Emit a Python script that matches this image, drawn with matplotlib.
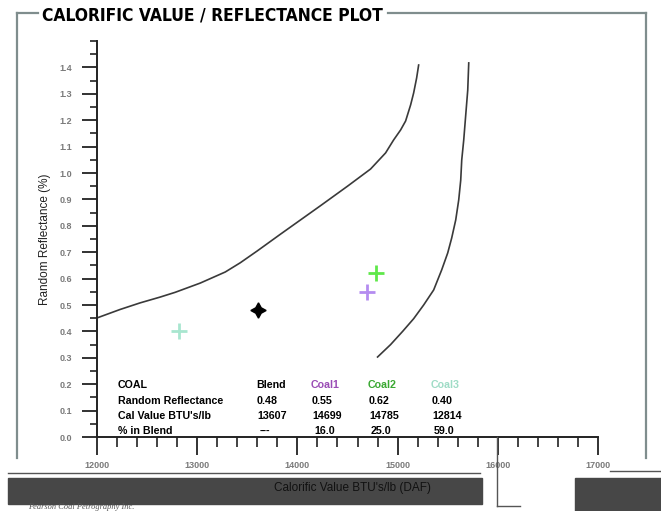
import matplotlib
matplotlib.use("Agg")
import matplotlib.pyplot as plt
from matplotlib.patches import Rectangle
from matplotlib.lines import Line2D
from matplotlib import font_manager as fm
from matplotlib.ticker import MultipleLocator

W, H = 661, 511

# ---------------- data ----------------
coal_names = ["Blend", "Coal1", "Coal2", "Coal3"]
reflectance = [0.48, 0.55, 0.62, 0.40]
cal_value = [13607, 14699, 14785, 12814]
pct_blend = ["---", "16.0", "25.0", "59.0"]
row_labels = ["COAL", "Random Reflectance", "Cal Value BTU's/lb", "% in Blend"]

left_curve_btu = [12000, 12230, 12430, 12630, 12780, 13030, 13280, 13430,
                  13600, 13830, 14030, 14230, 14500, 14730, 14880, 14960,
                  15030, 15080, 15130, 15160, 15190, 15210]
left_curve_ref = [0.451, 0.483, 0.508, 0.530, 0.548, 0.583, 0.625, 0.660,
                  0.705, 0.768, 0.822, 0.876, 0.950, 1.015, 1.076, 1.125,
                  1.163, 1.197, 1.258, 1.303, 1.360, 1.409]
right_curve_btu = [15710, 15700, 15680, 15660, 15640, 15630, 15610, 15580,
                   15540, 15500, 15440, 15360, 15260, 15160, 15050, 14930,
                   14800]
right_curve_ref = [1.417, 1.314, 1.220, 1.125, 1.049, 0.973, 0.898, 0.822,
                   0.754, 0.697, 0.633, 0.557, 0.500, 0.448, 0.400, 0.350,
                   0.303]

x_ticks = [12000, 13000, 14000, 15000, 16000, 17000]
y_ticks = [0.0, 0.1, 0.2, 0.3, 0.4, 0.5, 0.6, 0.7, 0.8, 0.9, 1.0, 1.1, 1.2, 1.3, 1.4]

marker_colors = ["black", "#b48cf0", "#5fe84a", "#a8e6cf"]
text_colors = ["black", "#9a4cb5", "#3aa832", "#9fdcc6"]

# ---------------- fonts ----------------
sans = "Liberation Sans"
title_prop = None
for f in fm.fontManager.ttflist:
    st = str(f.stretch).lower()
    wt = f.weight if isinstance(f.weight, int) else (700 if "bold" in str(f.weight).lower() else 400)
    if ("condensed" in st or "narrow" in f.name.lower()) and wt >= 700 \
            and f.style == "normal" and "extra" not in st and "ultra" not in st:
        if f.name in ("Liberation Sans Narrow", "Noto Sans", "Open Sans",
                      "DejaVu Sans", "Roboto"):
            title_prop = fm.FontProperties(fname=f.fname)
            break
if title_prop is None:
    title_prop = fm.FontProperties(family=sans, weight="bold")

fig = plt.figure(figsize=(W / 100, H / 100), dpi=100)


def fx(x):
    return x / W


def fy(y):
    return 1 - y / H


# frame around the chart
frame_c = "#7f8d8d"
for xs, ys in [([17, 38], [13, 13]), ([388, 646], [13, 13]),
               ([17, 17], [13, 458]), ([646, 646], [13, 458])]:
    fig.add_artist(Line2D([fx(v) for v in xs], [fy(v) for v in ys],
                          color=frame_c, lw=1.6, transform=fig.transFigure))

title = fig.text(fx(42), fy(15), "CALORIFIC VALUE / REFLECTANCE PLOT",
                 fontproperties=title_prop, fontsize=15,
                 ha="left", va="center", color="black")
renderer = fig.canvas.get_renderer()
tw = title.get_window_extent(renderer).width
title.set_fontsize(min(17, 15 * 342 / tw))

# main axes
left, right = 97, 598
bottom, top = 437, 41
ax = fig.add_axes([fx(left), fy(bottom), (right - left) / W, (bottom - top) / H])
ax.set_xlim(12000, 17000)
ax.set_ylim(0, 1.5)
for s in ["top", "right"]:
    ax.spines[s].set_visible(False)
for s in ["left", "bottom"]:
    ax.spines[s].set_color("#222222")
    ax.spines[s].set_linewidth(1.4)

ax.set_yticks(y_ticks)
ax.set_yticklabels([f"{v:.1f}" for v in y_ticks])
ax.yaxis.set_minor_locator(MultipleLocator(0.05))
ax.set_xticks(x_ticks)
ax.set_xticklabels([str(v) for v in x_ticks])
ax.xaxis.set_minor_locator(MultipleLocator(200))
ax.tick_params(axis="y", which="major", length=11, width=1.3, color="#222222",
               labelsize=6.5, labelcolor="#7a7a7a", pad=7)
ax.tick_params(axis="y", which="minor", length=5, width=1.2, color="#222222")
ax.tick_params(axis="x", which="major", length=13, width=1.3, color="#222222",
               labelsize=6.5, labelcolor="#7a7a7a", pad=4)
ax.tick_params(axis="x", which="minor", length=7, width=1.2, color="#222222")
for lab in ax.get_yticklabels() + ax.get_xticklabels():
    lab.set_fontweight("bold")
    lab.set_fontfamily(sans)

ax.set_ylabel("Random Reflectance (%)", fontsize=8.5, fontfamily=sans,
              color="#222222", labelpad=6)

ax.plot(left_curve_btu, left_curve_ref, color="#3a3a3a", lw=1.2)
ax.plot(right_curve_btu, right_curve_ref, color="#3a3a3a", lw=1.2)

# points
ax.plot(cal_value[0], reflectance[0], marker=(4, 1, 0), markersize=11,
        color=marker_colors[0], linestyle="none")
for i in range(1, 4):
    ax.plot(cal_value[i], reflectance[i], marker="+", markersize=12,
            markeredgewidth=2, color=marker_colors[i], linestyle="none")

# data table text
col_x = [256, 311, 368, 431]
row_y = [385, 401, 416, 431]
tfs = 7.7
for r, lab in enumerate(row_labels):
    fig.text(fx(118), fy(row_y[r]), lab, fontsize=tfs, fontweight="bold",
             fontfamily=sans, va="center", ha="left", color="black")
for c in range(4):
    fig.text(fx(col_x[c]), fy(row_y[0]), coal_names[c], fontsize=tfs,
             fontweight="bold", fontfamily=sans, va="center", ha="left",
             color=text_colors[c])
    fig.text(fx(col_x[c] + 1), fy(row_y[1]), f"{reflectance[c]:.2f}", fontsize=tfs,
             fontweight="bold", fontfamily=sans, va="center", ha="left")
    fig.text(fx(col_x[c] + 1), fy(row_y[2]), str(cal_value[c]), fontsize=tfs,
             fontweight="bold", fontfamily=sans, va="center", ha="left")
    fig.text(fx(col_x[c] + (4 if c == 0 else 3)), fy(row_y[3]), pct_blend[c],
             fontsize=tfs, fontweight="bold", fontfamily=sans, va="center",
             ha="left")

# bottom band (as in the reference image)
band_c = "#474747"
fig.add_artist(Rectangle((fx(8), fy(504)), fx(482) - fx(8), fy(478) - fy(504),
                         color=band_c, transform=fig.transFigure, zorder=0))
fig.add_artist(Rectangle((fx(575), fy(511)), fx(661) - fx(575), fy(478) - fy(511),
                         color=band_c, transform=fig.transFigure, zorder=0))
for xs, ys in [([8, 480], [473, 473]), ([497, 497], [437, 506]),
               ([497, 520], [506, 506]), ([610, 661], [471, 471])]:
    fig.add_artist(Line2D([fx(v) for v in xs], [fy(v) for v in ys],
                          color="#555555", lw=1.0, transform=fig.transFigure))

fig.text(fx(352), fy(488), "Calorific Value BTU's/lb (DAF)", fontsize=8.5,
         fontfamily=sans, ha="center", va="center", color="#111111")
fig.text(fx(28), fy(507), "Pearson Coal Petrography Inc.", fontsize=6,
         fontfamily="Liberation Serif", fontstyle="italic", ha="left",
         va="center", color="#555555")

fig.savefig("out.png", dpi=100)
